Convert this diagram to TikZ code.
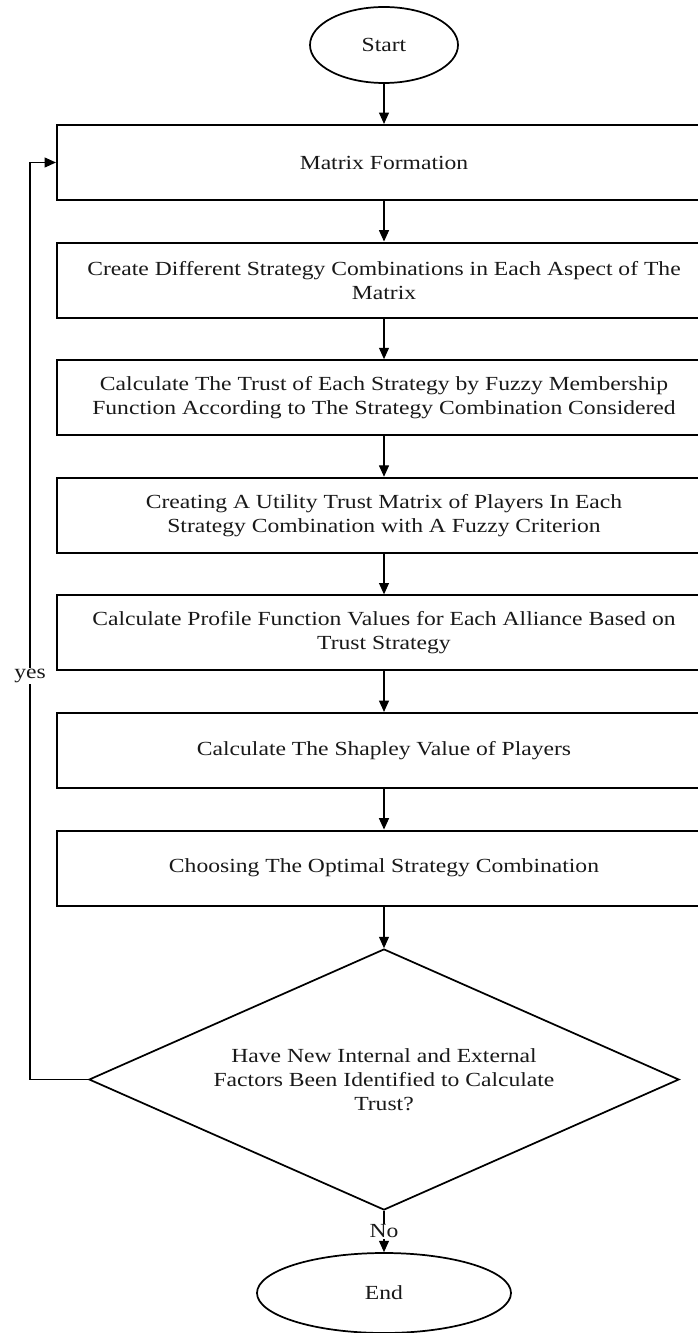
\documentclass[tikz,border=0pt]{standalone}
\usepackage{fontspec}
\setmainfont[FakeStretch=1.18]{Liberation Serif}
\usetikzlibrary{shapes,arrows.meta,positioning}

\begin{document}
\begin{tikzpicture}[x=0.75pt,y=-0.75pt,
    box/.style={draw,line width=1.6pt,minimum width=490.5pt,minimum height=56.25pt,align=center,text=black!90,font=\fontsize{15}{18}\selectfont},
    term/.style={draw,ellipse,line width=1.3pt,inner sep=0pt,text=black!90,font=\fontsize{15}{18}\selectfont},
    flow/.style={-{Triangle[length=8.5pt,width=7.5pt]},line width=0.8pt}]
    \useasboundingbox (0,0) rectangle (698,1333);

    % Start
    \node[term,minimum width=111pt,minimum height=57pt] (start) at (384,45) {Start};

    % Steps
    \node[box] (form) at (384,162.5) {Matrix Formation};
    \node[box] (combo) at (384,280.1) {Create Different Strategy Combinations in Each Aspect of The\\Matrix};
    \node[box] (trust) at (384,397.7) {Calculate The Trust of Each Strategy by Fuzzy Membership\\Function According to The Strategy Combination Considered};
    \node[box] (utility) at (384,515.3) {Creating A Utility Trust Matrix of Players In Each\\Strategy Combination with A Fuzzy Criterion};
    \node[box] (profile) at (384,632.9) {Calculate Profile Function Values for Each Alliance Based on\\Trust Strategy};
    \node[box] (shapley) at (384,750.5) {Calculate The Shapley Value of Players};
    \node[box] (optimal) at (384,868.1) {Choosing The Optimal Strategy Combination};

    % Decision
    \node[diamond,draw,line width=1.3pt,aspect=2.26,inner sep=0pt,minimum width=442.5pt,minimum height=195.75pt,align=center,text=black!90,font=\fontsize{15}{18}\selectfont] (ask) at (384,1079.5) {Have New Internal and External\\Factors Been Identified to Calculate\\Trust?};

    % End
    \node[term,minimum width=190.5pt,minimum height=60pt] (end) at (384,1293) {End};

    \draw[flow] (start) -- (form);
    \draw[flow] (form) -- (combo);
    \draw[flow] (combo) -- (trust);
    \draw[flow] (trust) -- (utility);
    \draw[flow] (utility) -- (profile);
    \draw[flow] (profile) -- (shapley);
    \draw[flow] (shapley) -- (optimal);
    \draw[flow] (optimal) -- (ask);
    \draw[flow] (ask) -- node[fill=white,inner sep=1pt,text=black!90,font=\fontsize{15}{18}\selectfont] {No} (end);

    % Loop back
    \coordinate (back) at (30,1079.5);
    \draw[flow] (ask.west) -- (back) |- node[pos=0.22,fill=white,inner sep=1pt,text=black!90,font=\fontsize{15}{18}\selectfont] {yes} (form.west);
\end{tikzpicture}
\end{document}
